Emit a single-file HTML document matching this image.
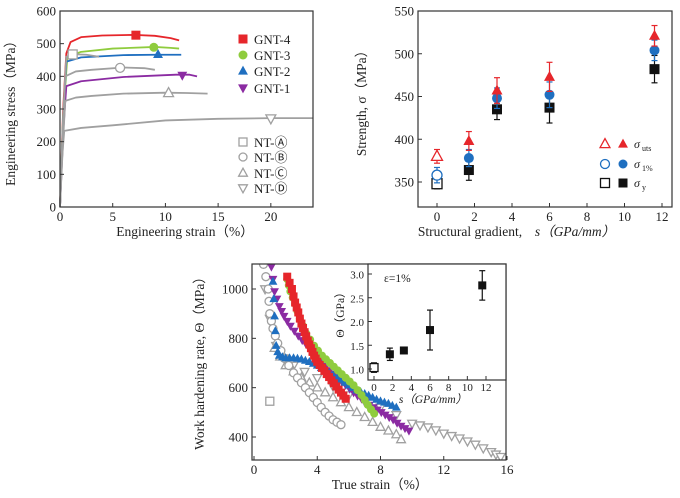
<!DOCTYPE html>
<html><head><meta charset="utf-8">
<style>
html,body{margin:0;padding:0;background:#fff;}
svg{display:block;font-family:"Liberation Serif","DejaVu Serif",serif;}
</style></head>
<body>
<svg id="fig" width="680" height="498" viewBox="0 0 680 498"></svg>
<script>
// ---------- Panel (a) data ----------
const aSeriesNames = ["GNT-4","GNT-3","GNT-2","GNT-1","NT-A","NT-B","NT-C","NT-D"];
const aStrain = [
 [0,0.3,0.6,1,2,4,7,9,10.5,11.3],
 [0,0.3,0.7,2,5,9,10.5,11.3],
 [0,0.3,0.6,2,6,9,11.5],
 [0,0.3,0.6,2,6,11,12.3,13],
 [0,0.3,0.6,1.2,2.5,3.7],
 [0,0.3,0.5,1.5,3,6,8,9],
 [0,0.3,0.5,1.5,3,6,10,12,14],
 [0,0.2,0.4,2,5,10,15,20,24]
];
const aStress = [
 [0,300,470,505,520,525,527,524,517,510],
 [0,280,460,475,485,490,487,485],
 [0,270,445,458,465,466,466],
 [0,230,370,385,398,405,405,400],
 [0,280,460,468,466,460],
 [0,250,400,415,420,427,425,420],
 [0,210,325,335,340,347,350,349,347],
 [0,150,233,242,250,265,270,272,272]
];
const aMarkX = [7.2,8.9,9.3,11.6,1.2,5.7,10.3,20];
const aMarkY = [526,489,467,403,467,426,349,271];
const aXTicks = [0,5,10,15,20];
const aYTicks = [0,100,200,300,400,500,600];
// ---------- Panel (b) data ----------
const bGradient = [0,1.7,3.2,6,11.6];
const bUts = [380,398,457,473,521];
const bUtsErr = [8,11,15,17,12];
const bS1 = [358,378,448,452,504];
const bS1Err = [9,10,12,15,12];
const bSy = [348,364,435,437,482];
const bSyErr = [6,12,12,18,16];
const bXTicks = [0,2,4,6,8,10,12];
const bYTicks = [350,400,450,500,550];
// ---------- Panel (c) data ----------
const cRedX = [2.1,2.25,2.4,2.5,2.6,2.7,2.8,2.9,3.0,3.1,3.2,3.3,3.4,3.5,3.6,3.7,3.8,3.9,4.0,4.15,4.3,4.45,4.6,4.75,4.9,5.05,5.2,5.35,5.5,5.65,5.8];
const cRedY = [1050,1025,1000,970,945,925,905,880,860,842,825,808,790,775,760,745,730,718,705,692,680,668,655,643,630,618,605,592,580,568,555];
const cGreenX = [2.1,2.2,2.3,2.45,2.6,2.75,2.9,3.1,3.3,3.55,3.8,4.05,4.3,4.55,4.8,5.05,5.3,5.55,5.8,6.05,6.3,6.55,6.8,7.0,7.2,7.4,7.6];
const cGreenY = [1040,1015,990,965,940,910,880,850,820,795,770,750,730,715,700,685,670,655,640,625,610,590,570,550,530,512,495];
const cBlueX = [1.2,1.25,1.3,1.35,1.4,1.5,1.6,1.8,2,2.25,2.5,2.75,3,3.25,3.5,3.75,4,4.25,4.5,4.75,5,5.25,5.5,5.75,6,6.25,6.5,6.75,7,7.25,7.5,7.75,8,8.25,8.5,8.75,9];
const cBlueY = [1030,960,890,830,770,745,730,724,720,720,720,718,715,710,705,698,690,680,670,660,650,640,630,620,610,600,590,582,575,568,560,552,545,540,535,527,520];
const cPurpleX = [1.1,1.2,1.3,1.45,1.6,1.75,1.9,2.1,2.3,2.55,2.8,3.05,3.3,3.55,3.8,4.05,4.3,4.55,4.8,5.05,5.3,5.55,5.8,6.05,6.3,6.55,6.8,7.05,7.3,7.55,7.8,8.05,8.3,8.55,8.8,9.05,9.3,9.55,9.8];
const cPurpleY = [1090,1040,990,960,930,910,890,870,850,830,810,792,775,757,740,722,705,687,670,655,640,625,610,595,580,567,555,542,530,520,510,500,490,480,470,457,445,435,425];
const cGrayCircX = [0.6,0.75,0.9,0.95,1.0,1.1,1.2,1.35,1.5,1.7,1.9,2.2,2.5,2.75,3,3.25,3.5,3.75,4,4.25,4.5,4.75,5,5.25,5.5];
const cGrayCircY = [1100,1050,1000,950,900,870,840,810,780,750,720,690,660,640,620,600,580,560,540,520,500,485,470,460,450];
const cGrayTriX = [1.3,1.65,2,2.5,3,3.5,4,4.5,5,5.5,6,6.5,7,7.5,8,8.5,9,9.3];
const cGrayTriY = [760,725,690,665,640,620,600,580,560,540,520,500,480,460,440,425,410,390];
const cGrayDownX = [0.7,1.0,1.4,1.9,2.5,3.2,4,5,6,7,8,9,10,10.5,11,11.5,12,12.5,13,13.5,14,14.5,15,15.3,15.6];
const cGrayDownY = [1000,880,770,720,690,665,640,605,570,545,520,490,455,448,440,428,415,405,395,383,370,355,340,330,320];
const cGraySqX = [1.0];
const cGraySqY = [545];
const cXTicks = [0,4,8,12,16];
const cYTicks = [400,600,800,1000];
// inset
const iGradient = [0,1.7,3.2,6,11.6];
const iTheta = [1.03,1.31,1.39,1.82,2.76];
const iErr = [0.1,0.13,0.05,0.42,0.31];
const iXTicks = [0,2,4,6,8,10,12];
const iYTicks = [1.0,1.5,2.0,2.5,3.0];

const NS="http://www.w3.org/2000/svg";
const svg=document.getElementById('fig');
function mk(tag,attrs,parent){const e=document.createElementNS(NS,tag);for(const k in attrs)e.setAttribute(k,attrs[k]);(parent||svg).appendChild(e);return e;}
function scale(d0,d1,r0,r1){return v=>r0+(v-d0)*(r1-r0)/(d1-d0);}
function txt(s,x,y,size,anchor,parent,rot){const t=mk('text',{x:x,y:y,'font-size':size,'text-anchor':anchor||'middle',fill:'#222'},parent);if(rot)t.setAttribute('transform','rotate(-90 '+x+' '+y+')');t.textContent=s;return t;}

function marker(g,shape,x,y,r,color,filled){
  const fill=filled?color:'#fff';const sw=filled?0:1.3;let e;
  if(shape==='sq')e=mk('rect',{x:x-r,y:y-r,width:2*r,height:2*r,fill:fill,stroke:color,'stroke-width':sw},g);
  else if(shape==='ci')e=mk('circle',{cx:x,cy:y,r:r,fill:fill,stroke:color,'stroke-width':sw},g);
  else if(shape==='tu')e=mk('polygon',{points:`${x},${y-r*1.2} ${x-r*1.1},${y+r*0.8} ${x+r*1.1},${y+r*0.8}`,fill:fill,stroke:color,'stroke-width':sw},g);
  else e=mk('polygon',{points:`${x},${y+r*1.2} ${x-r*1.1},${y-r*0.8} ${x+r*1.1},${y-r*0.8}`,fill:fill,stroke:color,'stroke-width':sw},g);
  return e;
}
function frame(g,L,T,R,B){const r=mk('rect',{x:L,y:T,width:R-L,height:B-T,fill:'none',stroke:'#333','stroke-width':1.2},g);}
function xticks(g,ticks,sx,B,size,off){ticks.forEach(t=>{const x=sx(t);mk('line',{x1:x,y1:B,x2:x,y2:B-4,stroke:'#333'},g);const l=txt(String(t),x,B+(off||14),size,'middle',g);});}
function yticks(g,ticks,sy,L,size,fmt){ticks.forEach(t=>{const y=sy(t);mk('line',{x1:L,y1:y,x2:L+4,y2:y,stroke:'#333'},g);const l=txt(fmt?fmt(t):String(t),L-4,y+4.5,size,'end',g);});}

const RED='#e6262b',GREEN='#8fcc3e',BLUE='#1f6fc0',PURPLE='#8b2ba2',GRAY='#a0a0a0';

// ================= Panel A =================
(function(){
  const g=mk('g',{});
  const L=60,R=313,T=11,B=207;
  const sx=scale(0,24,L,R),sy=scale(0,600,B,T);
  const cols=[RED,GREEN,BLUE,PURPLE,GRAY,GRAY,GRAY,GRAY];
  const shapes=['sq','ci','tu','td','sq','ci','tu','td'];
  aStrain.forEach((xs,i)=>{
    const p=mk('polyline',{points:xs.map((x,j)=>sx(x)+','+sy(aStress[i][j])).join(' '),fill:'none',stroke:cols[i],'stroke-width':1.8,'stroke-linejoin':'round'},g);
    
    
    const m=marker(g,shapes[i],sx(aMarkX[i]),sy(aMarkY[i]),4.5,cols[i],i<4);
    
    
  });
  frame(g,L,T,R,B);
  xticks(g,aXTicks,sx,B,13);yticks(g,aYTicks,sy,L,13);
  let t=txt('Engineering strain（%）',185,236,13.5,'middle',g);
  t=txt('Engineering stress（MPa）',15,110,13.5,'middle',g,true);
  const legY=[39,55,71,88,142,157,173,188];
  const labs=['GNT-4','GNT-3','GNT-2','GNT-1','NT-Ⓐ','NT-Ⓑ','NT-Ⓒ','NT-Ⓓ'];
  legY.forEach((y,i)=>{
    const lg=mk('g',{},g);
    marker(lg,shapes[i],243,y,i<4?4.5:4,cols[i],i<4);
    txt(labs[i],254,y+5,13,'start',lg);
  });
})();

// ================= Panel B =================
(function(){
  const g=mk('g',{});
  const L=418,R=672,T=11,B=207;
  const sx=scale(0,12,437,662),sy=scale(350,550,182,T);
  function series(vals,errs,shape,col,name){
    bGradient.forEach((x,i)=>{
      const cx=sx(x),cy=sy(vals[i]);
      const e=mk('line',{x1:cx,y1:sy(vals[i]+errs[i]),x2:cx,y2:sy(vals[i]-errs[i]),stroke:col,'stroke-width':1.2},g);
      
      [vals[i]+errs[i],vals[i]-errs[i]].forEach(v=>mk('line',{x1:cx-3,x2:cx+3,y1:sy(v),y2:sy(v),stroke:col,'stroke-width':1.2},g));
      const m=marker(g,shape,cx,cy,5,col,i>0);
      
    });
  }
  series(bSy,bSyErr,'sq','#111','yield');
  series(bS1,bS1Err,'ci',BLUE,'sigma-1pct');
  series(bUts,bUtsErr,'tu',RED,'uts');
  frame(g,L,T,R,B);
  xticks(g,bXTicks,sx,B,13);yticks(g,bYTicks,sy,L,13);
  let t=txt('Structural gradient, ',470,236,13.5,'middle',g);
  t=txt('s（GPa/mm）',575,236,13.5,'middle',g);t.setAttribute('font-style','italic');
  t=txt('Strength, σ（MPa）',366,100,13.5,'middle',g,true);
  const rows=[[144,'tu',RED,'uts'],[164,'ci',BLUE,'1%'],[183,'sq','#111','y']];
  rows.forEach(r=>{
    const lg=mk('g',{},g);
    marker(lg,r[1],605,r[0],4.5,r[2],false);marker(lg,r[1],623,r[0],4.5,r[2],true);
    const tt=txt('σ',634,r[0]+4,12,'start',lg);tt.setAttribute('font-style','italic');
    txt(r[3],642,r[0]+7,8,'start',lg);
  });
})();

// ================= Panel C =================
(function(){
  const g=mk('g',{});
  const L=252,R=506,T=264,B=460;
  const sx=scale(0,16,254,507),sy=scale(400,1000,437,289);
  const clip=mk('clipPath',{id:'cc'},g);mk('rect',{x:L,y:T,width:R-L,height:B-T},clip);
  const pg=mk('g',{'clip-path':'url(#cc)'},g);
  function sc(xs,ys,shape,col,filled,name){xs.forEach((x,i)=>{const m=marker(pg,shape,sx(x),sy(ys[i]),4,col,filled);});}
  sc(cGrayDownX,cGrayDownY,'td',GRAY,false,'nt-d-point');
  sc(cGrayTriX,cGrayTriY,'tu',GRAY,false,'nt-c-point');
  sc(cGrayCircX,cGrayCircY,'ci',GRAY,false,'nt-b-point');
  sc(cGraySqX,cGraySqY,'sq',GRAY,false,'nt-a-point');
  sc(cPurpleX,cPurpleY,'td',PURPLE,true,'gnt-1-point');
  sc(cBlueX,cBlueY,'tu',BLUE,true,'gnt-2-point');
  sc(cGreenX,cGreenY,'ci',GREEN,true,'gnt-3-point');
  sc(cRedX,cRedY,'sq',RED,true,'gnt-4-point');
  frame(g,L,T,R,B);
  xticks(g,cXTicks,sx,B,13);yticks(g,cYTicks,sy,L,13);
  let t=txt('True strain（%）',380,489,13.5,'middle',g);
  t=txt('Work hardening rate, Θ（MPa）',204,360,13.5,'middle',g,true);
  // inset
  const ig=mk('g',{},g);
  const IL=368,IR=506,IT=264,IB=380;
  mk('rect',{x:IL,y:IT,width:IR-IL,height:IB-IT,fill:'#fff'},ig);
  const ix=scale(0,12,374,486),iy=scale(1,3,369,274);
  iGradient.forEach((x,i)=>{
    const cx=ix(x);
    const e=mk('line',{x1:cx,y1:iy(iTheta[i]+iErr[i]),x2:cx,y2:iy(iTheta[i]-iErr[i]),stroke:'#111','stroke-width':1.2},ig);
    
    [iTheta[i]+iErr[i],iTheta[i]-iErr[i]].forEach(v=>mk('line',{x1:cx-3,x2:cx+3,y1:iy(v),y2:iy(v),stroke:'#111','stroke-width':1.2},ig));
    const m=marker(ig,'sq',cx,iy(iTheta[i]),4,'#111',i>0);
    
  });
  frame(ig,IL,IT,IR,IB);
  xticks(ig,iXTicks,ix,IB,11,11);yticks(ig,iYTicks,iy,IL,11,v=>v.toFixed(1));
  t=txt('s（GPa/mm）',433,403,11.5,'middle',ig);t.setAttribute('font-style','italic');
  t=txt('Θ（GPa）',344,312,11.5,'middle',ig,true);
  t=txt('ε=1%',384,282,11.5,'start',ig);
})();
</script>
</body></html>
